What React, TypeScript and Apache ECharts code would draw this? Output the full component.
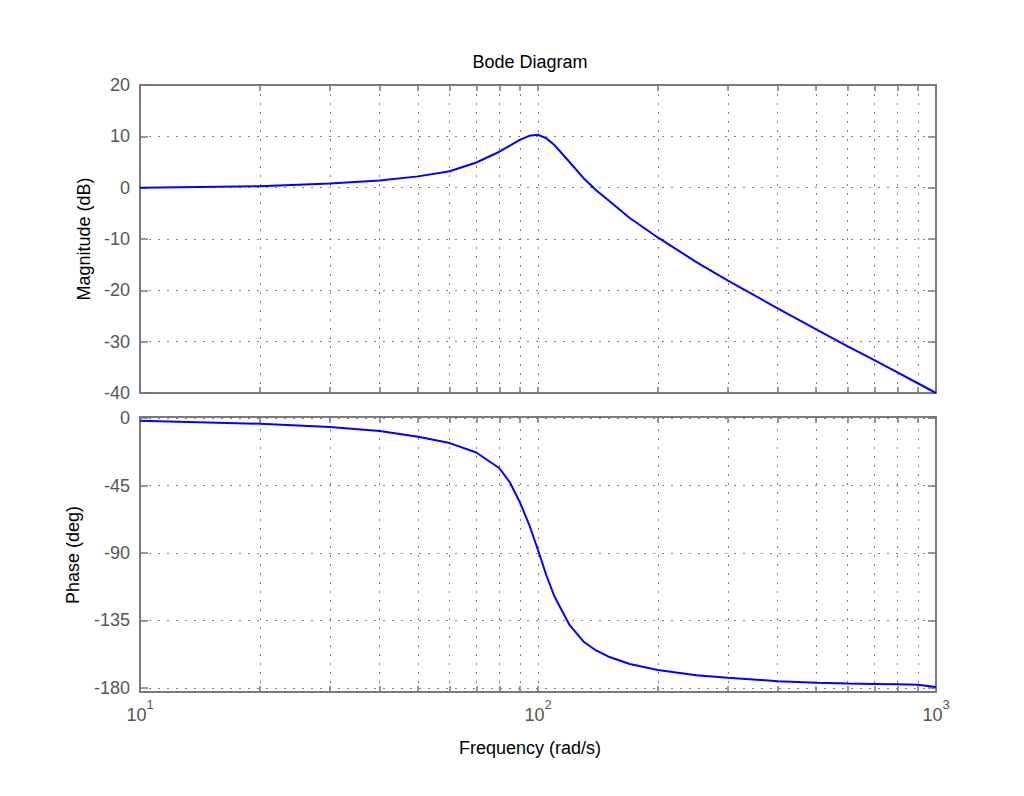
import React, { useEffect, useRef } from "react";
import * as echarts from "echarts";

const freq = [10, 20, 30, 40, 50, 60, 70, 80, 85, 90, 95, 100, 105, 110, 120, 130, 140, 150, 170, 200, 250, 300, 400, 500, 600, 700, 800, 900, 1000];
const magnitude = [0, 0.3, 0.8, 1.4, 2.2, 3.2, 4.9, 7.0, 8.2, 9.3, 10.1, 10.3, 9.6, 8.3, 5.0, 1.9, -0.5, -2.4, -5.9, -9.7, -14.5, -18.1, -23.5, -27.6, -30.9, -33.6, -36.0, -38.1, -40.0];
const phase = [-1.8, -3.8, -6.0, -8.7, -12.5, -16.7, -23.0, -33.5, -43.0, -56.0, -71.0, -88.0, -105.0, -119.0, -138.0, -149.0, -155.0, -159.0, -164.0, -168.0, -171.5, -173.2, -175.5, -176.5, -177.0, -177.3, -177.6, -177.9, -179.3];

const majorFreqTicks = [10, 100, 1000];
const allFreqTicks = [10, 20, 30, 40, 50, 60, 70, 80, 90, 100, 200, 300, 400, 500, 600, 700, 800, 900, 1000];
const gridFreqs = [20, 30, 40, 50, 60, 70, 80, 90, 100, 200, 300, 400, 500, 600, 700, 800, 900];
const magTicks = [-40, -30, -20, -10, 0, 10, 20];
const magGrid = [-30, -20, -10, 0, 10];
const phaseTicks = [0, -45, -90, -135, -180];
const phaseGrid = [0, -45, -90, -135, -180];

const AX = "#7a7a7a";
const LBL = "#555555";
const FONT = "'Liberation Sans', Arial, sans-serif";

export default function App() {
  const ref = useRef<HTMLDivElement>(null);
  useEffect(() => {
    const chart = echarts.init(ref.current!, null, { renderer: "svg" });
    const gridLine = { type: [2, 7] as any, color: "#808080", width: 1 };
    const xBase = (gi: number, pos: "top" | "bottom", labels: boolean) => ({
      type: "log" as const,
      logBase: 10,
      gridIndex: gi,
      position: pos,
      min: 10,
      max: 1000,
      axisLine: { show: false, onZero: false },
      splitLine: { show: false },
      axisTick: { show: true, inside: true, length: 6, lineStyle: { color: AX, width: 1.5 }, customValues: allFreqTicks },
      axisLabel: labels
        ? {
            show: true,
            customValues: majorFreqTicks,
            margin: 6,
            formatter: (v: number) => `{b|10}{s|${Math.round(Math.log10(v))}}`,
            rich: {
              b: { fontSize: 18, color: LBL, fontFamily: FONT, verticalAlign: "bottom", lineHeight: 26 },
              s: { fontSize: 13, color: LBL, fontFamily: FONT, verticalAlign: "top", lineHeight: 26 },
            },
          }
        : { show: false },
    });
    const yBase = (gi: number, pos: "left" | "right", min: number, max: number, ticks: number[], labels: boolean) => ({
      type: "value" as const,
      gridIndex: gi,
      position: pos,
      min,
      max,
      axisLine: { show: false, onZero: false },
      splitLine: { show: false },
      axisTick: { show: true, inside: true, length: 8, lineStyle: { color: AX, width: 1.5 }, customValues: ticks },
      axisLabel: labels
        ? { show: true, customValues: ticks, margin: 10, fontSize: 18, color: LBL, fontFamily: FONT }
        : { show: false },
    });
    const markLines = (xs: number[], ys: number[]) => ({
      silent: true,
      symbol: "none",
      label: { show: false },
      lineStyle: gridLine,
      data: [...xs.map((x) => ({ xAxis: x })), ...ys.map((y) => ({ yAxis: y }))],
    });
    chart.setOption({
      animation: false,
      grid: [
        { left: 140, top: 85, width: 796, height: 308, show: true, borderColor: AX, borderWidth: 2, backgroundColor: "#fff" },
        { left: 140, top: 417, width: 796, height: 275, show: true, borderColor: AX, borderWidth: 2, backgroundColor: "#fff" },
      ],
      xAxis: [xBase(0, "bottom", false), xBase(0, "top", false), xBase(1, "bottom", true), xBase(1, "top", false)],
      yAxis: [
        yBase(0, "left", -40, 20, magTicks, true),
        yBase(0, "right", -40, 20, magTicks, false),
        yBase(1, "left", -182.7, 0.7, phaseTicks, true),
        yBase(1, "right", -182.7, 0.7, phaseTicks, false),
      ],
      series: [
        {
          type: "line",
          xAxisIndex: 0,
          yAxisIndex: 0,
          data: freq.map((f, i) => [f, magnitude[i]]),
          showSymbol: false,
          lineStyle: { color: "#0000ff", width: 2 },
          itemStyle: { color: "#0000ff" },
          markLine: markLines(gridFreqs, magGrid),
          z: 5,
        },
        {
          type: "line",
          xAxisIndex: 2,
          yAxisIndex: 2,
          data: freq.map((f, i) => [f, phase[i]]),
          showSymbol: false,
          lineStyle: { color: "#0000ff", width: 2 },
          itemStyle: { color: "#0000ff" },
          markLine: markLines(gridFreqs, phaseGrid),
          z: 5,
        },
      ],
      graphic: [
        { type: "text", x: 530, y: 62, style: { text: "Bode Diagram", fontSize: 18, fontFamily: FONT, fill: "#000", align: "center", verticalAlign: "middle" } },
        { type: "text", x: 530, y: 748, style: { text: "Frequency (rad/s)", fontSize: 18, fontFamily: FONT, fill: "#000", align: "center", verticalAlign: "middle" } },
        { type: "text", x: 84, y: 239, rotation: Math.PI / 2, style: { text: "Magnitude (dB)", fontSize: 18, fontFamily: FONT, fill: "#000", align: "center", verticalAlign: "middle" } },
        { type: "text", x: 73, y: 555, rotation: Math.PI / 2, style: { text: "Phase (deg)", fontSize: 18, fontFamily: FONT, fill: "#000", align: "center", verticalAlign: "middle" } },
      ],
    });
    return () => chart.dispose();
  }, []);
  return <div ref={ref} style={{ position: "absolute", left: 0, top: 0, width: 1024, height: 796 }} />;
}
